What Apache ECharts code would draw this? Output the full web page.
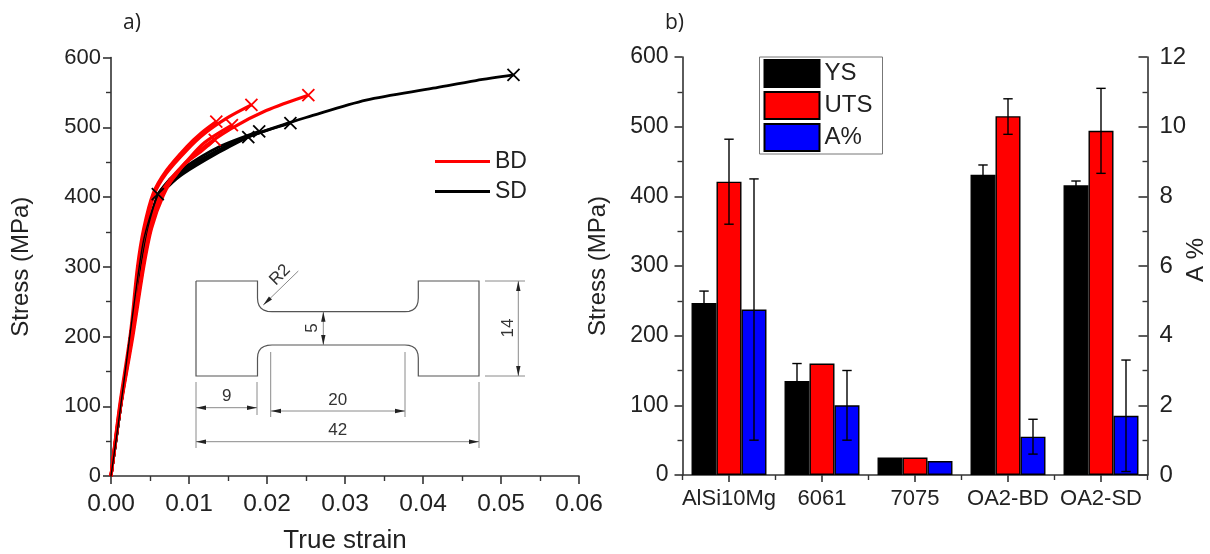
<!DOCTYPE html>
<html>
<head>
<meta charset="utf-8">
<title>Stress curves and tensile properties</title>
<script src="https://cdn.jsdelivr.net/npm/echarts@6/dist/echarts.min.js"></script>
<style>
html, body { margin: 0; padding: 0; background: #fff; }
#main { width: 1210px; height: 554px; }
</style>
</head>
<body>
<div id="main"></div>
<script>
// values: [true strain, stress MPa]
var bdCurve1 = [[0,0],[0.0011,100],[0.0025,205],[0.0034,300],[0.0042,355],[0.0054,405],[0.0071,438],[0.0097,472],[0.0115,491],[0.0135,508]];
var bdCurve2 = [[0,0],[0.0011,96],[0.0026,203],[0.0035,298],[0.0044,353],[0.0056,405],[0.0071,434],[0.0097,467],[0.012,491],[0.015,514],[0.018,532]];
var bdCurve3 = [[0,0],[0.0011,92],[0.0027,200],[0.0041,300],[0.0051,355],[0.0066,405],[0.0082,430],[0.0095,448],[0.0115,465],[0.0133,482]];
var bdCurve4 = [[0,0],[0.0011,92],[0.0027,200],[0.0041,300],[0.005,355],[0.0064,405],[0.0078,428],[0.0095,449],[0.012,478],[0.0155,503]];
var bdCurve5 = [[0,0],[0.0011,90],[0.0028,200],[0.0042,300],[0.0052,355],[0.0067,402],[0.0084,434],[0.0114,467],[0.0154,498],[0.0199,524],[0.0253,546]];
var sdCurve1 = [[0,0],[0.001,80],[0.002,165],[0.003,250],[0.0041,334],[0.005,372],[0.006,404]];
var sdCurve2 = [[0,0],[0.002,160],[0.004,312],[0.006,398],[0.0075,417],[0.0092,433],[0.0135,462],[0.0176,486]];
var sdCurve3 = [[0,0],[0.002,160],[0.004,312],[0.006,402],[0.0075,425],[0.0092,441],[0.0135,470],[0.019,494]];
var sdCurve4 = [[0,0],[0.002,160],[0.004,314],[0.006,403],[0.0075,422],[0.0092,438],[0.0135,466],[0.018,488],[0.023,506]];
var sdCurve5 = [[0,0],[0.002,160],[0.004,315],[0.006,403],[0.0075,420],[0.0092,436],[0.0135,465],[0.018,488],[0.023,507],[0.025,514],[0.0327,539],[0.0413,556],[0.0468,567],[0.0516,575]];
var bdEnds = [[0.0135,508],[0.018,532],[0.0133,482],[0.0155,503],[0.0253,546]];
var sdEnds = [[0.006,404],[0.0176,486],[0.019,494],[0.023,506],[0.0516,575]];

var categories = ['AlSi10Mg', '6061', '7075', 'OA2-BD', 'OA2-SD'];
var ysValues = [247, 135, 25, 431, 416];
var utsValues = [421, 160, 25, 515, 494];
var aValues = [4.75, 2.0, 0.4, 1.1, 1.7];
// error bars: [low, high], null where the picture shows none
var ysError = [[230, 264], [110, 160], null, [417, 445], [410, 422]];
var utsError = [[360, 482], null, null, [489, 540], [433, 555]];
var aError = [[1.0, 8.5], [1.0, 3.0], null, [0.6, 1.6], [0.1, 3.3]];

var stressTicks = { min: 0, max: 600, interval: 100 };
var strainTicks = { min: 0, max: 0.06, interval: 0.01 };

var FONT = 'Liberation Sans';
var INK = '#222';
var LINE = '#333';

function axisLook(labelSize, margin) {
    return {
        axisLine: { show: true, onZero: false, lineStyle: { color: LINE, width: 1.6 } },
        axisTick: { show: true, length: 8, lineStyle: { color: LINE, width: 1.6 } },
        minorTick: { show: true, splitNumber: 2, length: 5, lineStyle: { color: LINE, width: 1.4 } },
        splitLine: { show: false },
        minorSplitLine: { show: false },
        axisLabel: { fontFamily: FONT, fontSize: labelSize, color: INK, margin: margin },
        nameTextStyle: { fontFamily: FONT, fontSize: 24, color: INK }
    };
}

function curve(name, data, color, width, z) {
    return {
        type: 'line', name: name, data: data, xAxisIndex: 0, yAxisIndex: 0,
        smooth: 0.3, symbol: 'none', z: z,
        lineStyle: { color: color, width: width },
        itemStyle: { color: color }
    };
}

function ends(data, color, z) {
    return {
        type: 'scatter', data: data, xAxisIndex: 0, yAxisIndex: 0, z: z,
        symbol: 'path://M0,0L10,10M10,0L0,10', symbolSize: 12,
        itemStyle: { color: 'transparent', borderColor: color, borderWidth: 1.8, opacity: 1 }
    };
}

function bar(name, data, color, yIndex) {
    return {
        type: 'bar', name: name, data: data, xAxisIndex: 1, yAxisIndex: yIndex,
        barGap: 0, barCategoryGap: '19.4%', z: 2,
        itemStyle: { color: color, borderColor: '#000', borderWidth: 1.4 }
    };
}

// whiskers sit on top of the bars, shift is in bar widths from the group centre
function whiskers(errors, shift, yIndex) {
    var rows = [];
    errors.forEach(function (e, i) {
        if (e) rows.push([i, e[0], e[1]]);
    });
    return {
        type: 'custom', data: rows, xAxisIndex: 1, yAxisIndex: yIndex, z: 5,
        encode: { x: 0, y: [1, 2] },
        renderItem: function (params, api) {
            var low = api.coord([api.value(0), api.value(1)]);
            var high = api.coord([api.value(0), api.value(2)]);
            var x = low[0] + shift * api.size([1, 0])[0] * 25 / 93;
            var cap = 4.7;
            var style = { stroke: '#000', lineWidth: 1.4, fill: null };
            return {
                type: 'group',
                children: [
                    { type: 'line', shape: { x1: x, y1: low[1], x2: x, y2: high[1] }, style: style },
                    { type: 'line', shape: { x1: x - cap, y1: low[1], x2: x + cap, y2: low[1] }, style: style },
                    { type: 'line', shape: { x1: x - cap, y1: high[1], x2: x + cap, y2: high[1] }, style: style }
                ]
            };
        }
    };
}

// specimen sketch inside the left plot, not data
var GREY = '#8a8a8a';
var sketch = [];
function seg(x1, y1, x2, y2) {
    sketch.push({ type: 'line', shape: { x1: x1, y1: y1, x2: x2, y2: y2 }, style: { stroke: GREY, lineWidth: 1 }, z: 20 });
}
function head(x, y, dx, dy) {
    // small filled arrow head pointing along dx,dy
    var nx = -dy, ny = dx;
    sketch.push({
        type: 'polygon',
        shape: { points: [[x, y], [x - dx * 10 + nx * 2.2, y - dy * 10 + ny * 2.2], [x - dx * 10 - nx * 2.2, y - dy * 10 - ny * 2.2]] },
        style: { fill: '#222' }, z: 21
    });
}
function dimH(x1, x2, y) {
    seg(x1, y, x2, y);
    head(x1, y, -1, 0);
    head(x2, y, 1, 0);
}
function dimV(x, y1, y2) {
    seg(x, y1, x, y2);
    head(x, y1, 0, -1);
    head(x, y2, 0, 1);
}
function note(text, x, y, rotation) {
    sketch.push({
        type: 'text', x: x, y: y, rotation: rotation || 0, z: 22,
        style: { text: text, fontFamily: FONT, fontSize: 17, fill: '#333', align: 'center', verticalAlign: 'middle' }
    });
}
// rounded corner of the specimen as a few points on a quadratic curve
function corner(a, c, b) {
    var pts = [];
    for (var k = 0; k <= 6; k++) {
        var t = k / 6;
        pts.push([
            (1 - t) * (1 - t) * a[0] + 2 * t * (1 - t) * c[0] + t * t * b[0],
            (1 - t) * (1 - t) * a[1] + 2 * t * (1 - t) * c[1] + t * t * b[1]
        ]);
    }
    return pts;
}
var outline = [[196, 281], [257.5, 281]]
    .concat(corner([257.5, 298], [257.5, 311.7], [272, 311.7]))
    .concat(corner([405, 311.7], [418.3, 311.7], [418.3, 298]))
    .concat([[418.3, 281], [479, 281], [479, 376], [418.3, 376]])
    .concat(corner([418.3, 358], [418.3, 345], [405, 345]))
    .concat(corner([272, 345], [257.5, 345], [257.5, 358]))
    .concat([[257.5, 376], [196, 376], [196, 281]]);
sketch.push({
    type: 'polyline', z: 20,
    shape: { points: outline },
    style: { fill: null, stroke: '#555', lineWidth: 1.2 }
});
seg(298.3, 271, 263.3, 305);
head(263.3, 305, -0.717, 0.697);
note('R2', 280, 275, Math.PI / 4);
dimV(323.3, 311.7, 345);
note('5', 312.7, 328, Math.PI / 2);
seg(485, 281, 525, 281);
seg(485, 376, 525, 376);
dimV(518.3, 281, 376);
note('14', 508, 328, Math.PI / 2);
seg(196, 382, 196, 448);
seg(257, 382, 257, 415);
seg(270.7, 352, 270.7, 417);
seg(405, 352, 405, 417);
seg(479, 382, 479, 448);
dimH(196, 257, 407.7);
note('9', 226.7, 396.7);
dimH(271, 405, 411);
note('20', 337.7, 400);
dimH(196, 479, 441.7);
note('42', 337.7, 430.7);

var dom = document.getElementById('main');
var myChart = echarts.init(dom);

myChart.setOption({
    animation: false,
    backgroundColor: '#fff',
    textStyle: { fontFamily: FONT },
    title: [
        { text: 'a)', left: 118, top: 8, textStyle: { fontFamily: 'Open Sans', fontSize: 21, fontWeight: 'normal', color: INK } },
        { text: 'b)', left: 660, top: 8, textStyle: { fontFamily: 'Open Sans', fontSize: 21, fontWeight: 'normal', color: INK } }
    ],
    grid: [
        { left: 111, top: 57.5, width: 468, height: 418.5, outerBoundsMode: 'none' },
        { left: 682.5, top: 57, width: 465, height: 418, outerBoundsMode: 'none' }
    ],
    legend: [
        {
            data: ['BD', 'SD'], orient: 'vertical', left: 435, top: 150, icon: 'rect',
            itemWidth: 55, itemHeight: 3, itemGap: 7, padding: 0,
            textStyle: { fontFamily: FONT, fontSize: 23, color: INK }
        },
        {
            data: ['YS', 'UTS', 'A%'], orient: 'vertical', left: 759.5, top: 57, icon: 'rect',
            itemWidth: 55, itemHeight: 27, itemGap: 3, padding: [2, 10, 2, 4],
            borderColor: '#777', borderWidth: 1, backgroundColor: '#fff', z: 12,
            textStyle: { fontFamily: FONT, fontSize: 24, color: INK }
        }
    ],
    xAxis: [
        Object.assign(axisLook(24.5, 16), {
            type: 'value', gridIndex: 0, min: strainTicks.min, max: strainTicks.max, interval: strainTicks.interval,
            name: 'True strain', nameLocation: 'middle', nameGap: 52,
            nameTextStyle: { fontFamily: FONT, fontSize: 26, color: INK },
            axisLabel: Object.assign(axisLook(24.5, 16).axisLabel, {
                formatter: function (v) { return v.toFixed(2); }
            })
        }),
        Object.assign(axisLook(22, 12), {
            type: 'category', gridIndex: 1, data: categories,
            axisLabel: Object.assign(axisLook(22, 13).axisLabel, { interval: 0 }),
            axisTick: { show: true, alignWithLabel: true, length: 7, lineStyle: { color: LINE, width: 1.6 } },
            minorTick: { show: false }
        }),
        // short ticks on the category borders
        {
            type: 'value', gridIndex: 1, position: 'bottom', min: 0, max: categories.length, interval: 1,
            axisLine: { show: false },
            axisTick: { show: true, length: 5, lineStyle: { color: LINE, width: 1.4 } },
            axisLabel: { show: false }, splitLine: { show: false }
        }
    ],
    yAxis: [
        Object.assign(axisLook(22, 10), {
            type: 'value', gridIndex: 0, min: stressTicks.min, max: stressTicks.max, interval: stressTicks.interval,
            name: 'Stress (MPa)', nameLocation: 'middle', nameGap: 78
        }),
        Object.assign(axisLook(23, 14), {
            type: 'value', gridIndex: 1, min: stressTicks.min, max: stressTicks.max, interval: stressTicks.interval,
            name: 'Stress (MPa)', nameLocation: 'middle', nameGap: 72
        }),
        Object.assign(axisLook(24, 12), {
            type: 'value', gridIndex: 1, position: 'right', min: 0, max: 12, interval: 2,
            name: 'A %', nameLocation: 'middle', nameGap: 37, nameMoveOverlap: false,
            nameTextStyle: { fontFamily: FONT, fontSize: 24, color: INK, padding: [0, 0, 0, 12] },
            axisTick: { show: true, inside: true, length: 9, lineStyle: { color: LINE, width: 1.6 } },
            minorTick: { show: true, splitNumber: 2, length: 5, lineStyle: { color: LINE, width: 1.4 } }
        })
    ],
    series: [
        curve('SD', sdCurve5, '#000', 2.8, 3),
        curve('SD', sdCurve4, '#000', 2.8, 3),
        curve('SD', sdCurve3, '#000', 2.8, 3),
        curve('SD', sdCurve2, '#000', 2.8, 3),
        curve('BD', bdCurve5, '#f00', 3.2, 4),
        curve('BD', bdCurve4, '#f00', 3.2, 4),
        curve('BD', bdCurve3, '#f00', 3.2, 4),
        curve('BD', bdCurve2, '#f00', 3.2, 4),
        curve('BD', bdCurve1, '#f00', 3.2, 4),
        curve('SD', sdCurve1, '#000', 1.4, 5),
        ends(bdEnds, '#f00', 6),
        ends(sdEnds, '#000', 6),
        bar('YS', ysValues, '#000', 1),
        bar('UTS', utsValues, '#f00', 1),
        bar('A%', aValues, '#00f', 2),
        whiskers(ysError, -1, 1),
        whiskers(utsError, 0, 1),
        whiskers(aError, 1, 2)
    ],
    graphic: sketch
});

window.onresize = function () {
    myChart.resize();
};
</script>
</body>
</html>
